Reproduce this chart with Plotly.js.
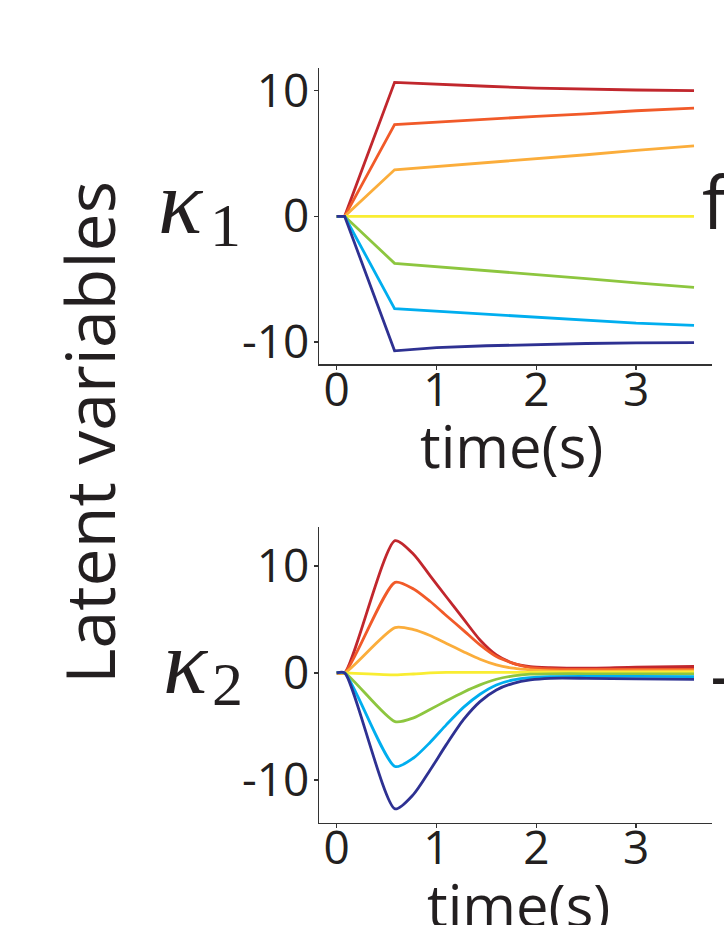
<!DOCTYPE html>
<html>
<head>
<meta charset="utf-8">
<script src="https://cdn.plot.ly/plotly-3.0.1.min.js"></script>
<style>html,body{margin:0;padding:0;background:#fff;}#chart{width:724px;height:925px;}</style>
</head>
<body>
<div id="chart"></div>
<script>
// ---- data ----
const seriesNames = ["s1", "s2", "s3", "s4", "s5", "s6", "s7"];
const seriesColors = ["#c1272d", "#f15a29", "#fbad3b", "#f9ed32", "#8dc63f", "#00aeef", "#2e3192"];

// kappa 1 (top panel)
const timeK1 = [0, 0.08, 0.58, 1.0, 1.5, 2.0, 2.5, 3.0, 3.58];
const k1_s1 = [0, 0, 10.66, 10.5, 10.35, 10.2, 10.1, 10.05, 10.0];
const k1_s2 = [0, 0, 7.3, 7.5, 7.75, 7.95, 8.15, 8.4, 8.6];
const k1_s3 = [0, 0, 3.7, 3.95, 4.25, 4.55, 4.9, 5.25, 5.6];
const k1_s4 = [0, 0, 0, 0, 0, 0, 0, 0, 0];
const k1_s5 = [0, 0, -3.74, -4.0, -4.3, -4.6, -4.95, -5.3, -5.65];
const k1_s6 = [0, 0, -7.35, -7.55, -7.8, -8.05, -8.3, -8.5, -8.67];
const k1_s7 = [0, 0, -10.7, -10.45, -10.3, -10.2, -10.12, -10.07, -10.05];

// kappa 2 (bottom panel)
const timeK2 = [0, 0.08, 0.585, 0.77, 0.935, 1.10, 1.27, 1.436, 1.60, 1.77, 1.94, 2.14, 2.5, 3.0, 3.58];
const k2_s1 = [0, 0, 12.37, 11.1, 9.1, 7.1, 5.05, 3.08, 1.68, 0.9, 0.59, 0.5, 0.45, 0.55, 0.6];
const k2_s2 = [0, 0, 8.47, 7.85, 6.7, 5.35, 3.98, 2.62, 1.53, 0.9, 0.5, 0.38, 0.32, 0.33, 0.34];
const k2_s3 = [0, 0, 4.24, 4.05, 3.5, 2.75, 1.99, 1.28, 0.75, 0.44, 0.28, 0.2, 0.17, 0.18, 0.19];
const k2_s4 = [0, 0, -0.19, -0.1, 0, 0.05, 0.06, 0.06, 0.06, 0.06, 0.06, 0.07, 0.08, 0.08, 0.09];
const k2_s5 = [0, 0, -4.55, -4.2, -3.42, -2.6, -1.8, -1.12, -0.59, -0.28, -0.12, -0.08, -0.08, -0.09, -0.09];
const k2_s6 = [0, 0, -8.75, -7.95, -6.5, -4.83, -3.22, -1.99, -1.12, -0.65, -0.44, -0.34, -0.32, -0.33, -0.34];
const k2_s7 = [0, 0, -12.71, -11.35, -9.1, -6.68, -4.37, -2.68, -1.59, -0.97, -0.65, -0.5, -0.5, -0.55, -0.6];

const xTickVals = [0, 1, 2, 3];
const xTickText = ["0", "1", "2", "3"];
const yTickVals = [-10, 0, 10];
const yTickText = ["-10", "0", "10"];

const k1Series = [k1_s1, k1_s2, k1_s3, k1_s4, k1_s5, k1_s6, k1_s7];
const k2Series = [k2_s1, k2_s2, k2_s3, k2_s4, k2_s5, k2_s6, k2_s7];

// ---- build ----
const W = 724, H = 925;
const px = v => v / W;
const py = v => 1 - v / H;
const FONT = "Open Sans, sans-serif";
const INK = "#231f20";

const traces = [];
k1Series.forEach((ys, i) => traces.push({
  x: timeK1, y: ys, xaxis: "x", yaxis: "y", type: "scatter", mode: "lines",
  name: seriesNames[i], line: {color: seriesColors[i], width: 2.8}, showlegend: false, hoverinfo: "skip"
}));
k2Series.forEach((ys, i) => traces.push({
  x: timeK2, y: ys, xaxis: "x2", yaxis: "y2", type: "scatter", mode: "lines",
  name: seriesNames[i], line: {color: seriesColors[i], width: 2.8, shape: "spline", smoothing: 0.7}, showlegend: false, hoverinfo: "skip"
}));

function xAx(anchor) {
  return {
    domain: [px(319), px(712)], range: [-0.177, 3.76], anchor: anchor,
    tickvals: xTickVals, ticktext: xTickText, ticks: "outside", ticklen: 4, tickwidth: 1.5, tickcolor: "#333",
    ticklabelstandoff: -19,
    showline: true, linecolor: "#333", linewidth: 1.5, showgrid: false, zeroline: false,
    tickfont: {family: FONT, size: 46, color: INK}, fixedrange: true
  };
}
function yAx(anchor, dom, range) {
  return {
    domain: dom, range: range, anchor: anchor,
    tickvals: yTickVals, ticktext: yTickText, ticks: "outside", ticklen: 4, tickwidth: 1.5, tickcolor: "#333",
    ticklabelstandoff: -5,
    showline: true, linecolor: "#333", linewidth: 1.5, showgrid: false, zeroline: false,
    tickfont: {family: FONT, size: 46, color: INK}, fixedrange: true
  };
}

const annotations = [
  {text: "Latent variables", x: px(88), y: py(433), xref: "paper", yref: "paper", showarrow: false,
   textangle: -90, xanchor: "center", yanchor: "middle", font: {family: FONT, size: 68, color: INK}},
  {text: "time(s)", x: px(511), y: py(445), xref: "paper", yref: "paper", showarrow: false,
   xanchor: "center", yanchor: "middle", font: {family: FONT, size: 58, color: INK}},
  {text: "time(s)", x: px(518), y: py(904), xref: "paper", yref: "paper", showarrow: false,
   xanchor: "center", yanchor: "middle", font: {family: FONT, size: 58, color: INK}},
  {text: "κ", x: px(181), y: py(202), xref: "paper", yref: "paper", showarrow: false,
   xanchor: "center", yanchor: "middle", font: {family: "Liberation Serif, serif", size: 92, color: INK, style: "italic"}},
  {text: "1", x: px(225), y: py(225), xref: "paper", yref: "paper", showarrow: false,
   xanchor: "center", yanchor: "middle", font: {family: "Liberation Serif, serif", size: 62, color: INK}},
  {text: "κ", x: px(186), y: py(662), xref: "paper", yref: "paper", showarrow: false,
   xanchor: "center", yanchor: "middle", font: {family: "Liberation Serif, serif", size: 92, color: INK, style: "italic"}},
  {text: "2", x: px(227), y: py(684), xref: "paper", yref: "paper", showarrow: false,
   xanchor: "center", yanchor: "middle", font: {family: "Liberation Serif, serif", size: 62, color: INK}},
  {text: "f", x: px(700), y: py(200), xref: "paper", yref: "paper", showarrow: false,
   xanchor: "left", yanchor: "middle", font: {family: FONT, size: 74, color: INK}},
  {text: "-", x: px(708), y: py(672), xref: "paper", yref: "paper", showarrow: false,
   xanchor: "left", yanchor: "middle", font: {family: FONT, size: 76, color: INK}}
];

const layout = {
  width: W, height: H, margin: {l: 0, r: 0, t: 0, b: 0},
  paper_bgcolor: "#fff", plot_bgcolor: "#fff", showlegend: false,
  xaxis: xAx("y"),
  yaxis: yAx("x", [py(364), py(68)], [-11.75, 11.8]),
  xaxis2: xAx("y2"),
  yaxis2: yAx("x2", [py(822.7), py(526.7)], [-14, 13.67]),
  annotations: annotations
};

Plotly.newPlot("chart", traces, layout, {displayModeBar: false, staticPlot: true});
</script>
</body>
</html>
